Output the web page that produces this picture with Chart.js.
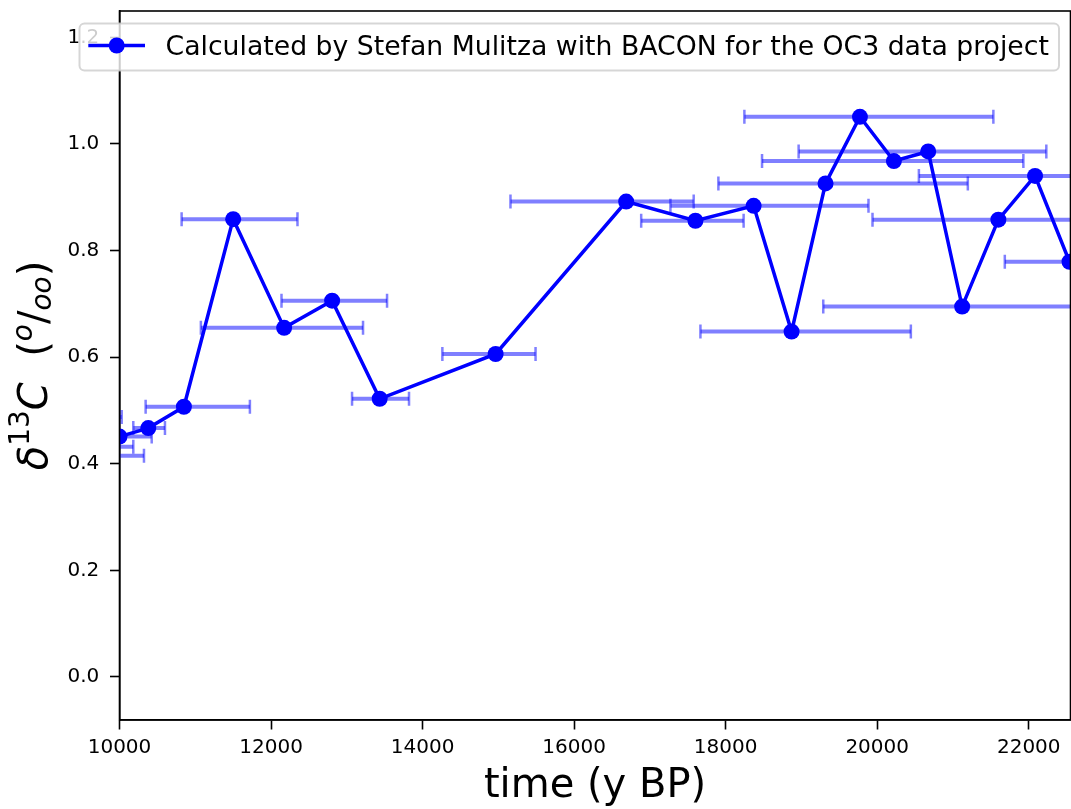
<!DOCTYPE html>
<html>
<head>
<meta charset="utf-8">
<script src="https://cdn.jsdelivr.net/npm/chart.js@4.4.1/dist/chart.umd.min.js"></script>
<style>
  html, body { margin: 0; padding: 0; background: #fff; overflow: hidden; }
  #wrap { width: 1080px; height: 809px; }
</style>
</head>
<body>
<div id="wrap"><canvas id="grafico" width="1080" height="809"></canvas></div>
<script>
// edades (y BP), valores de d13C y rango de edad de cada punto
const edades  = [9700, 9800, 9900, 10000, 10380, 10850, 11500, 12173, 12806, 13434, 14964, 16687, 17601, 18369, 18870, 19318, 19772, 20220, 20673, 21121, 21599, 22083, 22538];
const d13c    = [0.415, 0.432, 0.488, 0.451, 0.467, 0.507, 0.859, 0.655, 0.706, 0.522, 0.606, 0.892, 0.856, 0.884, 0.648, 0.926, 1.051, 0.968, 0.986, 0.695, 0.858, 0.940, 0.779];
const edadMin = [9077, 9418, 9771, 9575, 10182, 10345, 10820, 11074, 12138, 13069, 14261, 15160, 16885, 17271, 17667, 17904, 18247, 18480, 18963, 19288, 19938, 20550, 21684];
const edadMax = [10323, 10182, 10029, 10425, 10600, 11721, 12349, 13214, 13531, 13821, 15491, 17578, 18237, 19885, 20444, 21196, 21533, 21929, 22232, 22954, 23260, 23616, 23392];

const ticksX = [10000, 12000, 14000, 16000, 18000, 20000, 22000];
const ticksY = [0.0, 0.2, 0.4, 0.6, 0.8, 1.0, 1.2];

const etiqueta = 'Calculated by Stefan Mulitza with BACON for the OC3 data project';
const tituloX = 'time (y BP)';

const fuente = '"DejaVu Sans", sans-serif';
const azul = '#0000ff';
const azulClaro = 'rgba(0,0,255,0.5)';

// una serie por cada barra de error horizontal (con sus topes)
const barrasError = edades.map((t, i) => ({
  label: 'err' + i,
  data: [{x: edadMin[i], y: d13c[i]}, {x: edadMax[i], y: d13c[i]}],
  borderColor: azulClaro,
  borderWidth: 4,
  pointStyle: 'line',
  pointRotation: 90,
  pointRadius: 7,
  pointBorderWidth: 2.5,
  pointBorderColor: azulClaro,
  pointBackgroundColor: azulClaro,
  clip: 0,
  order: 1
}));

const serie = {
  label: etiqueta,
  data: edades.map((t, i) => ({x: t, y: d13c[i]})),
  borderColor: azul,
  backgroundColor: azul,
  borderWidth: 3.5,
  pointRadius: 8,
  pointBorderWidth: 0,
  pointBackgroundColor: azul,
  clip: 0,
  order: 0
};

// fondo blanco
const fondo = {
  id: 'fondo',
  beforeDraw(chart) {
    const ctx = chart.ctx;
    ctx.save();
    ctx.fillStyle = '#fff';
    ctx.fillRect(0, 0, chart.width, chart.height);
    ctx.restore();
  }
};

// marco completo del area del grafico (como los ejes de matplotlib)
const marco = {
  id: 'marco',
  afterDatasetsDraw(chart) {
    const {ctx, chartArea: a} = chart;
    ctx.save();
    ctx.strokeStyle = '#000';
    ctx.lineWidth = 1.6;
    ctx.strokeRect(a.left, a.top, a.right - a.left, a.bottom - a.top);
    ctx.restore();
  }
};

// titulo del eje y con super y subindices
const tituloY = {
  id: 'tituloY',
  afterDraw(chart) {
    const ctx = chart.ctx;
    const a = chart.chartArea;
    const piezas = [
      {t: 'δ', f: 'italic 40px ' + fuente, dy: 0},
      {t: '13', f: '28px ' + fuente, dy: -18},
      {t: 'C', f: 'italic 40px ' + fuente, dy: 0},
      {t: '  (', f: '40px ' + fuente, dy: 0},
      {t: 'o', f: 'italic 28px ' + fuente, dy: -15},
      {t: '/', f: '40px ' + fuente, dy: 0},
      {t: 'oo', f: 'italic 28px ' + fuente, dy: 4},
      {t: ')', f: '40px ' + fuente, dy: 0}
    ];
    ctx.save();
    let total = 0;
    piezas.forEach(p => { ctx.font = p.f; p.w = ctx.measureText(p.t).width; total += p.w; });
    ctx.translate(47, (a.top + a.bottom) / 2);
    ctx.rotate(-Math.PI / 2);
    ctx.fillStyle = '#000';
    ctx.textBaseline = 'alphabetic';
    let x = -total / 2;
    piezas.forEach(p => { ctx.font = p.f; ctx.fillText(p.t, x, p.dy); x += p.w; });
    ctx.restore();
  }
};

// leyenda dentro del grafico, arriba a la izquierda
const leyenda = {
  id: 'leyenda',
  afterDraw(chart) {
    const ctx = chart.ctx;
    const x0 = 79.5, y0 = 23.5, x1 = 1059, y1 = 70.5, r = 5;
    ctx.save();
    ctx.beginPath();
    ctx.roundRect(x0, y0, x1 - x0, y1 - y0, r);
    ctx.fillStyle = 'rgba(255,255,255,0.8)';
    ctx.fill();
    ctx.strokeStyle = 'rgba(204,204,204,0.8)';
    ctx.lineWidth = 2;
    ctx.stroke();
    ctx.beginPath();
    ctx.moveTo(88.3, 45.5);
    ctx.lineTo(145, 45.5);
    ctx.strokeStyle = azul;
    ctx.lineWidth = 3.5;
    ctx.stroke();
    ctx.beginPath();
    ctx.arc(116.7, 45.5, 8, 0, Math.PI * 2);
    ctx.fillStyle = azul;
    ctx.fill();
    ctx.font = '26.7px ' + fuente;
    ctx.fillStyle = '#000';
    ctx.textBaseline = 'alphabetic';
    ctx.fillText(chart.data.datasets[0].label, 165.5, 55);
    ctx.restore();
  }
};

// quita el relleno que Chart.js reserva para las etiquetas de los extremos
const sinRelleno = s => { s.paddingTop = 0; s.paddingBottom = 0; s.paddingLeft = 0; s.paddingRight = 0; };

new Chart(document.getElementById('grafico'), {
  type: 'line',
  data: { datasets: [serie, ...barrasError] },
  options: {
    responsive: false,
    animation: false,
    devicePixelRatio: 1,
    events: [],
    layout: { padding: { top: 11, right: 8.5, left: 0, bottom: 0 } },
    plugins: { legend: { display: false }, tooltip: { enabled: false } },
    scales: {
      x: {
        type: 'linear',
        min: 10000,
        max: 22551,
        afterBuildTicks: s => { s.ticks = ticksX.map(v => ({value: v})); },
        afterFit: s => { s.height = 89; sinRelleno(s); },
        ticks: {
          color: '#000',
          font: { family: fuente, size: 20 },
          padding: 6.5,
          maxRotation: 0,
          callback: v => String(v)
        },
        grid: { drawOnChartArea: false, drawTicks: true, tickLength: 9.5, tickWidth: 1.6, tickColor: '#000' },
        border: { display: true, color: '#000', width: 1.6 },
        title: {
          display: true,
          text: tituloX,
          color: '#000',
          font: { family: fuente, size: 40, lineHeight: 1.1 },
          padding: { top: 0, bottom: 0 }
        }
      },
      y: {
        type: 'linear',
        min: -0.0807,
        max: 1.2495,
        afterBuildTicks: s => { s.ticks = ticksY.map(v => ({value: v})); },
        afterFit: s => { s.width = 119.5; sinRelleno(s); },
        ticks: {
          color: '#000',
          font: { family: fuente, size: 20 },
          padding: 10.7,
          callback: v => v.toFixed(1)
        },
        grid: { drawOnChartArea: false, drawTicks: true, tickLength: 9.5, tickWidth: 1.6, tickColor: '#000' },
        border: { display: true, color: '#000', width: 1.6 }
      }
    }
  },
  plugins: [fondo, marco, tituloY, leyenda]
});
</script>
</body>
</html>
